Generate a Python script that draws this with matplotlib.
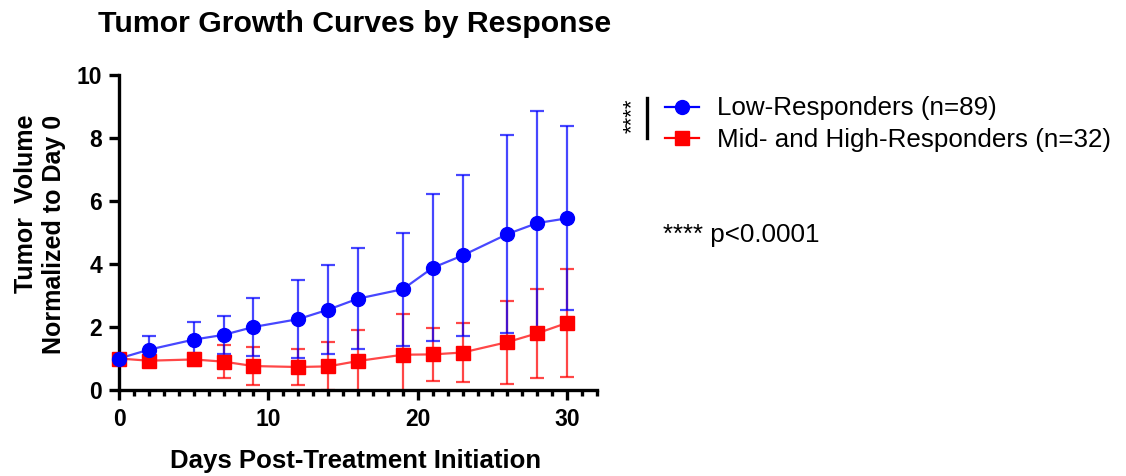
import matplotlib
matplotlib.use("Agg")
import matplotlib.pyplot as plt
from matplotlib.lines import Line2D
from matplotlib.ticker import MultipleLocator

plt.rcParams['font.family'] = ['Liberation Sans', 'DejaVu Sans']

days = [0, 2, 5, 7, 9, 12, 14, 16, 19, 21, 23, 26, 28, 30]
low_mean = [1.0, 1.28, 1.60, 1.75, 2.00, 2.25, 2.55, 2.90, 3.20, 3.88, 4.27, 4.95, 5.30, 5.45]
low_sd = [0.0, 0.44, 0.56, 0.60, 0.91, 1.23, 1.41, 1.61, 1.80, 2.33, 2.57, 3.13, 3.56, 2.92]
mid_mean = [1.0, 0.93, 0.97, 0.90, 0.76, 0.73, 0.75, 0.92, 1.12, 1.13, 1.19, 1.52, 1.80, 2.13]
mid_sd = [0.0, 0.10, 0.22, 0.53, 0.61, 0.57, 0.76, 0.97, 1.30, 0.85, 0.94, 1.32, 1.42, 1.72]

labels = ["Low-Responders (n=89)", "Mid- and High-Responders (n=32)"]
x_ticks = [0, 10, 20, 30]
y_ticks = [0, 2, 4, 6, 8, 10]

W, H = 1126, 476
fig = plt.figure(figsize=(W / 100, H / 100), dpi=100)
ax = fig.add_axes([119 / W, (H - 390) / H, (597 - 119) / W, (390 - 75) / H])

BLUE = '#0000ff'
RED = '#ff0000'

def series(mean, sd, color, marker, ms):
    ax.errorbar(days, mean, yerr=sd, fmt='-', color=color, lw=1.6,
                elinewidth=1.6, capsize=5, capthick=1.6, alpha=0.72)
    ax.plot(days, mean, linestyle='none', marker=marker, ms=ms, color=color,
            clip_on=False, zorder=5)

series(mid_mean, mid_sd, RED, 's', 9.5)
series(low_mean, low_sd, BLUE, 'o', 10)

ax.set_xlim(0, 32)
ax.set_ylim(0, 10)
ax.set_xticks(x_ticks)
ax.set_yticks(y_ticks)
ax.xaxis.set_minor_locator(MultipleLocator(1))
for s in ['top', 'right']:
    ax.spines[s].set_visible(False)
for s in ['left', 'bottom']:
    ax.spines[s].set_linewidth(2.4)
ax.tick_params(axis='both', which='major', length=7, width=2.4, labelsize=16.5, pad=5)
ax.tick_params(axis='x', which='major', pad=6)
ax.tick_params(axis='x', which='minor', length=4, width=2.4)
for lab in ax.get_xticklabels() + ax.get_yticklabels():
    lab.set_fontweight('bold')

# y label
fig.text(40 / W, 1 - 234 / H, "Tumor  Volume\nNormalized to Day 0", fontsize=18,
         fontweight='bold', rotation=90, ha='center', va='center',
         multialignment='right', linespacing=1.2)

# x label and title
fig.text(356 / W, 1 - 468 / H, "Days Post-Treatment Initiation", fontsize=18.5,
         fontweight='bold', ha='center', va='baseline')
fig.text(355 / W, 1 - 32 / H, "Tumor Growth Curves by Response", fontsize=21.8,
         fontweight='bold', ha='center', va='baseline')

# legend (manual)
rows = [(107, 115, BLUE, 'o', 10), (138, 147, RED, 's', 9.5)]
for (yc, yb, col, mk, ms), lab in zip(rows, labels):
    fig.add_artist(Line2D([665 / W, 682 / W, 699 / W], [1 - yc / H] * 3,
                          transform=fig.transFigure, color=col, lw=1.6,
                          marker=mk, ms=ms, markevery=[1]))
    fig.text(717 / W, 1 - yb / H, lab, fontsize=18.7, ha='left', va='baseline')

# significance bracket
fig.add_artist(Line2D([647 / W, 647 / W], [1 - 98 / H, 1 - 138 / H],
                      transform=fig.transFigure, color='black', lw=2.4))
fig.text(632 / W, 1 - 116 / H, "****", fontsize=16, rotation=90,
         ha='center', va='center')
fig.text(663 / W, 1 - 242 / H, "**** p<0.0001", fontsize=18.7, ha='left', va='baseline')

fig.savefig("out.png", dpi=100)
